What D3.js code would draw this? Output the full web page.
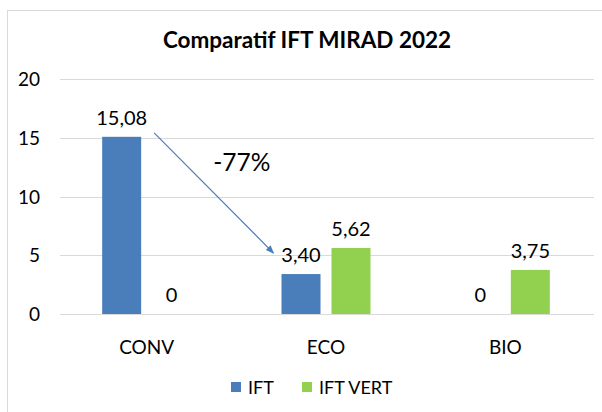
<!DOCTYPE html>
<html>
<head>
<meta charset="utf-8">
<script src="https://cdn.jsdelivr.net/npm/d3@7"></script>
<style>
    body { margin: 0; background: #ffffff; }
    svg { display: block; font-family: Lato, "Liberation Sans", sans-serif; }
</style>
</head>
<body>
<svg id="chart" width="602" height="412"></svg>
<script>
// Chart data
var categories = ["CONV", "ECO", "BIO"];
var series_Names = ["IFT", "IFT VERT"];
var ift_Values = [15.08, 3.40, 0];
var ift_Vert_Values = [0, 5.62, 3.75];
var y_Ticks = [0, 5, 10, 15, 20];
var series_Colors = ["#4a7ebb", "#92d050"];

var svg = d3.select("#chart");

// outer frame of the chart
svg.append("rect")
.attr("x", 7.5)
.attr("y", 10.5)
.attr("width", 620)
.attr("height", 420)
.attr("fill", "white")
.attr("stroke", "#d9d9d9");

var x = d3.scaleBand()
.domain(categories)
.range([57, 595]);

var x_Inner = d3.scaleBand()
.domain(series_Names)
.range([0, 89])
.paddingInner(0.22);

var y = d3.scaleLinear()
.domain([0, 20])
.range([314, 79]);

var fmt = d3.formatLocale({decimal: ",", thousands: " ", grouping: [3], currency: ["", " €"]}).format(".2f");
function label_Text(v)
{
    return v === 0 ? "0" : fmt(v);
}

// title
svg.append("text")
.attr("x", 307)
.attr("y", 48)
.attr("text-anchor", "middle")
.attr("font-size", 22.5)
.attr("font-weight", "bold")
.attr("fill", "#000")
.text("Comparatif IFT MIRAD 2022");

// grid lines + y labels
var y_Axis = svg.append("g");
y_Axis.selectAll("line")
.data(y_Ticks)
.enter().append("line")
.attr("x1", 60)
.attr("x2", 594)
.attr("y1", d => Math.round(y(d)) + 0.5)
.attr("y2", d => Math.round(y(d)) + 0.5)
.attr("stroke", "#d9d9d9")
.attr("stroke-width", 1);

y_Axis.selectAll("text")
.data(y_Ticks)
.enter().append("text")
.attr("x", 40)
.attr("y", d => y(d) + 7)
.attr("text-anchor", "end")
.attr("font-size", 19)
.attr("fill", "#000")
.text(d => d);

// bars, one group per category
var rows = categories.map(function(c, i)
{
    return [
        {cat: c, name: series_Names[0], value: ift_Values[i], color: series_Colors[0]},
        {cat: c, name: series_Names[1], value: ift_Vert_Values[i], color: series_Colors[1]}
    ];
});

function bar_X(d)
{
    return x(d.cat) + x.bandwidth() / 2 - 44.5 + x_Inner(d.name);
}

var groups = svg.selectAll("g.cat")
.data(rows)
.enter().append("g")
.attr("class", "cat");

groups.selectAll("rect")
.data(d => d)
.enter().append("rect")
.attr("x", bar_X)
.attr("y", d => y(d.value))
.attr("width", x_Inner.bandwidth())
.attr("height", d => y(0) - y(d.value))
.attr("fill", d => d.color);

groups.selectAll("text")
.data(d => d)
.enter().append("text")
.attr("x", d => bar_X(d) + x_Inner.bandwidth() / 2)
.attr("y", d => y(d.value) - 12)
.attr("text-anchor", "middle")
.attr("font-size", 20)
.attr("fill", "#000")
.text(d => label_Text(d.value));

// category labels
svg.selectAll("text.cat_Label")
.data(categories)
.enter().append("text")
.attr("class", "cat_Label")
.attr("x", d => x(d) + x.bandwidth() / 2)
.attr("y", 354)
.attr("text-anchor", "middle")
.attr("font-size", 19)
.attr("fill", "#000")
.text(d => d);

// arrow from CONV IFT to ECO IFT
var defs = svg.append("defs");
defs.append("marker")
.attr("id", "arrow_Head")
.attr("viewBox", "0 0 10 10")
.attr("refX", 9)
.attr("refY", 5)
.attr("markerWidth", 7)
.attr("markerHeight", 7)
.attr("orient", "auto")
.append("path")
.attr("d", "M0,1 L10,5 L0,9 Z")
.attr("fill", "#4a7ebb");

var conv_Bar = {cat: categories[0], name: series_Names[0]};
var eco_Bar = {cat: categories[1], name: series_Names[0]};
var arrow_X1 = bar_X(conv_Bar) + x_Inner.bandwidth() + 13;
var arrow_Y1 = y(ift_Values[0]) - 4;
var arrow_X2 = bar_X(eco_Bar) - 8;
var arrow_Y2 = y(ift_Values[1]) - 21;

svg.append("line")
.attr("x1", arrow_X1)
.attr("y1", arrow_Y1)
.attr("x2", arrow_X2)
.attr("y2", arrow_Y2)
.attr("stroke", "#4a7ebb")
.attr("stroke-width", 1.2)
.attr("marker-end", "url(#arrow_Head)");

var change = Math.round((ift_Values[1] - ift_Values[0]) / ift_Values[0] * 100);
svg.append("text")
.attr("x", (arrow_X1 + arrow_X2) / 2 + 28)
.attr("y", 171)
.attr("text-anchor", "middle")
.attr("font-size", 24.5)
.attr("fill", "#000")
.text(change + "%");

// legend
var legend = svg.append("g");
var legend_X = [231, 302];
series_Names.forEach(function(name, i)
{
    legend.append("rect")
    .attr("x", legend_X[i])
    .attr("y", 382)
    .attr("width", 10)
    .attr("height", 10)
    .attr("fill", series_Colors[i]);
    legend.append("text")
    .attr("x", legend_X[i] + 17)
    .attr("y", 394)
    .attr("font-size", 18)
    .attr("fill", "#000")
    .text(name);
});
</script>
</body>
</html>
